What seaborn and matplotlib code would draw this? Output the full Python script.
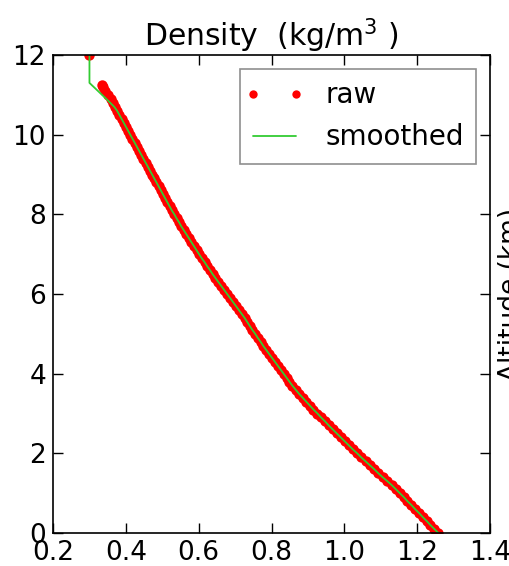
import numpy as np
import pandas as pd
import matplotlib
matplotlib.use('Agg')
import matplotlib.pyplot as plt
from matplotlib.lines import Line2D
from matplotlib.legend_handler import HandlerLine2D
import seaborn as sns

# raw sounding: altitude (km) and density (kg/m^3)
raw_alt = [0.0, 0.1, 0.2, 0.3, 0.4, 0.5, 0.6, 0.7, 0.8, 0.9,
           1.0, 1.1, 1.2, 1.3, 1.4, 1.5, 1.6, 1.7, 1.8, 1.9,
           2.0, 2.1, 2.2, 2.3, 2.4, 2.5, 2.6, 2.7, 2.8, 2.9,
           3.0, 3.1, 3.2, 3.3, 3.4, 3.5, 3.6, 3.7, 3.8, 3.9,
           4.0, 4.1, 4.2, 4.3, 4.4, 4.5, 4.6, 4.7, 4.8, 4.9,
           5.0, 5.1, 5.2, 5.3, 5.4, 5.5, 5.6, 5.7, 5.8, 5.9,
           6.0, 6.1, 6.2, 6.3, 6.4, 6.5, 6.6, 6.7, 6.8, 6.9,
           7.0, 7.1, 7.2, 7.3, 7.4, 7.5, 7.6, 7.7, 7.8, 7.9,
           8.0, 8.1, 8.2, 8.3, 8.4, 8.5, 8.6, 8.7, 8.8, 8.9,
           9.0, 9.1, 9.2, 9.3, 9.4, 9.5, 9.6, 9.7, 9.8, 9.9,
           10.0, 10.1, 10.2, 10.3, 10.4, 10.5, 10.6, 10.7, 10.8, 10.9,
           11.0, 11.1, 11.2, 11.25, 12.0]
raw_density = [1.258, 1.247, 1.236, 1.226, 1.215, 1.205, 1.194, 1.184, 1.173, 1.163,
               1.152, 1.141, 1.130, 1.118, 1.105, 1.093, 1.082, 1.070, 1.058, 1.046,
               1.035, 1.023, 1.012, 1.001, 0.990, 0.979, 0.968, 0.957, 0.947, 0.936,
               0.926, 0.915, 0.905, 0.895, 0.885, 0.875, 0.866, 0.857, 0.849, 0.841,
               0.833, 0.825, 0.817, 0.809, 0.801, 0.793, 0.785, 0.777, 0.770, 0.762,
               0.755, 0.747, 0.740, 0.733, 0.726, 0.718, 0.710, 0.702, 0.694, 0.686,
               0.678, 0.670, 0.662, 0.654, 0.646, 0.638, 0.631, 0.623, 0.616, 0.608,
               0.601, 0.594, 0.587, 0.580, 0.573, 0.566, 0.559, 0.552, 0.546, 0.539,
               0.533, 0.526, 0.520, 0.514, 0.508, 0.502, 0.496, 0.490, 0.484, 0.478,
               0.472, 0.466, 0.460, 0.454, 0.448, 0.442, 0.436, 0.430, 0.424, 0.418,
               0.412, 0.406, 0.400, 0.394, 0.388, 0.382, 0.376, 0.370, 0.364, 0.358,
               0.351, 0.344, 0.337, 0.334, 0.300]

# smoothed profile: follows raw up to 10.6 km, then bends to the top point
smooth_tail_alt = [10.7, 10.9, 11.3, 12.0]
smooth_tail_density = [0.368, 0.346, 0.300, 0.300]

raw = pd.DataFrame({'density': raw_density, 'alt': raw_alt})
low = raw[raw['alt'] <= 10.6]
smooth = pd.DataFrame({
    'density': list(low['density']) + smooth_tail_density,
    'alt': list(low['alt']) + smooth_tail_alt,
})

sns.set_style('ticks')
plt.rcParams['font.family'] = ['DejaVu Sans']
plt.rcParams.update({
    'text.color': 'black', 'axes.labelcolor': 'black',
    'xtick.color': 'black', 'ytick.color': 'black',
    'xtick.direction': 'in', 'ytick.direction': 'in',
    'xtick.top': True, 'ytick.right': True,
    'xtick.major.size': 7, 'ytick.major.size': 7,
    'xtick.major.width': 1, 'ytick.major.width': 1,
    'axes.edgecolor': 'black', 'axes.linewidth': 1.2,
})

fig = plt.figure(figsize=(5.10, 5.66), dpi=100)
ax = fig.add_axes([0.104, 0.0583, 0.857, 0.8445])

sns.lineplot(data=raw, x='density', y='alt', ax=ax, sort=False, estimator=None,
             linestyle='', marker='o', markersize=7.5, color='red',
             markeredgecolor='red', markeredgewidth=0, label='raw')
sns.lineplot(data=smooth, x='density', y='alt', ax=ax, sort=False, estimator=None,
             color='#33cc33', linewidth=1.3, label='smoothed')

ax.set_xlim(0.2, 1.4)
ax.set_ylim(0, 12)
ax.set_xticks(np.arange(0.2, 1.41, 0.2))
ax.set_yticks(range(0, 13, 2))
ax.tick_params(labelsize=19, pad=5)
ax.set_title('Density  (kg/m$^3$ )', fontsize=21.5, pad=6, color='black')
ax.set_xlabel('')
ax.yaxis.set_label_position('right')
ax.set_ylabel('Altitude (km)', fontsize=19, labelpad=6)

leg = ax.legend(loc='upper right', fontsize=20, numpoints=2, markerscale=0.8,
                handlelength=1.55, handletextpad=1.05, labelspacing=0.5,
                borderpad=0.45, borderaxespad=0.5, fancybox=False, frameon=True,
                handler_map={Line2D: HandlerLine2D(marker_pad=0)})
leg.get_frame().set_edgecolor('0.45')
leg.get_frame().set_linewidth(1.2)

fig.savefig('out.png', dpi=100)
